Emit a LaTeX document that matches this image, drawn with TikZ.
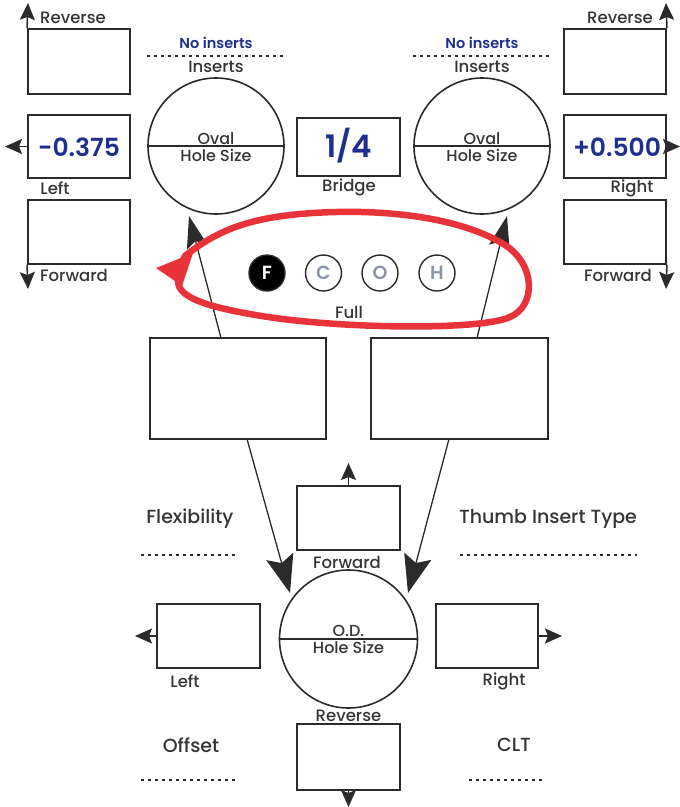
\documentclass[tikz,border=0pt]{standalone}
\usepackage{fontspec}
\setmainfont{Poppins}[UprightFont=* Medium,BoldFont=* SemiBold]
\usetikzlibrary{arrows.meta}
\definecolor{ln}{HTML}{2B2B2B}
\definecolor{tx}{HTML}{353535}
\definecolor{bl}{HTML}{1F2F90}
\definecolor{rd}{HTML}{E8333A}
\definecolor{lt}{HTML}{8A95A8}
\tikzset{
  box/.style={draw=ln,line width=1.9pt,inner sep=0pt},
  ring/.style={draw=ln,line width=1.6pt,circle,inner sep=0pt},
  lbl/.style={text=tx,font=\fontsize{16.5}{16}\selectfont,inner sep=0pt},
  mid/.style={text=tx,font=\fontsize{16}{15}\selectfont,inner sep=0pt},
  big/.style={text=tx,font=\fontsize{19}{19}\selectfont,inner sep=0pt},
  val/.style={text=bl,font=\bfseries\fontsize{25}{25}\selectfont,inner sep=0pt},
  sarr/.style={draw=ln,line width=1.6pt,-{Stealth[length=17pt,width=15pt,inset=3pt]}},
  larr/.style={draw=ln,line width=1.3pt,-{Stealth[length=38pt,width=28pt,inset=7pt]}},
  uarr/.style={draw=ln,line width=1.3pt,-{Stealth[length=32pt,width=21pt,inset=6pt]}},
  dots/.style={draw=ln,line width=2.2pt,dash pattern=on 3pt off 4pt},
  pick/.style={draw=ln,line width=1.4pt,circle,minimum size=36pt,inner sep=0pt,text=lt,font=\bfseries\fontsize{19}{19}\selectfont}
}
\begin{document}
\begin{tikzpicture}[x=1pt,y=-1pt]
\useasboundingbox (0,0) rectangle (680,807);
% ---------- top-left column
\node[box,minimum width=102pt,minimum height=65pt] (tlr) at (79,61.5) {};
\node[box,minimum width=102pt,minimum height=63pt] (tll) at (79,146.5) {};
\node[box,minimum width=102pt,minimum height=64pt] (tlf) at (79,232) {};
\node[val] (vl) at (79,147) {-0.375};
\coordinate (tlrE) at (28,3);
\coordinate (tllE) at (5,146.5);
\coordinate (tlfE) at (28,289);
\draw[sarr] (tlr.north west) -- (tlrE);
\draw[sarr] (tll.west) -- (tllE);
\draw[sarr] (tlf.south west) -- (tlfE);
\node[lbl] (tlrL) at (73,18) {Reverse};
\node[lbl] (tllL) at (55,188) {Left};
\node[lbl] (tlfL) at (74,275) {Forward};
% ---------- top-right column
\node[box,minimum width=102pt,minimum height=65pt] (trr) at (615,61.5) {};
\node[box,minimum width=102pt,minimum height=63pt] (trl) at (615,146.5) {};
\node[box,minimum width=102pt,minimum height=64pt] (trf) at (615,232) {};
\node[val] (vr) at (617,147) {+0.500};
\coordinate (trrE) at (666,3);
\coordinate (trlE) at (680,146.5);
\coordinate (trfE) at (666,289);
\draw[sarr] (trr.north east) -- (trrE);
\draw[sarr] (trl.east) -- (trlE);
\draw[sarr] (trf.south east) -- (trfE);
\node[lbl] (trrL) at (620,18) {Reverse};
\node[lbl] (trlL) at (632,188) {Right};
\node[lbl] (trfL) at (618,275) {Forward};
% ---------- ovals
\foreach \n/\x in {ol/216,or/482}{
  \node[ring,minimum size=136pt] (\n) at (\x,146) {};
  \draw[draw=ln,line width=1.6pt] (\n.west) -- (\n.east);
  \node[mid] (\n T) at (\x,139) {Oval};
  \node[mid] (\n B) at (\x,155) {Hole Size};
  \node[text=bl,font=\bfseries\fontsize{14.5}{14}\selectfont,inner sep=0pt] (\n N) at (\x,43) {No inserts};
  \coordinate (\n D1) at (\x-69,56);
  \coordinate (\n D2) at (\x+69,56);
  \draw[dots] (\n D1) -- (\n D2);
  \node[lbl] (\n I) at (\x,67) {Inserts};
}
% ---------- bridge
\node[box,minimum width=103pt,minimum height=58pt] (br) at (348.5,147) {};
\node[val,font=\bfseries\fontsize{31}{31}\selectfont] (brv) at (348.5,146) {1/4};
\node[lbl] (brL) at (349,187) {Bridge};
% ---------- F C O H
\node[pick,fill=black,text=white] (pF) at (267,273) {F};
\node[pick] (pC) at (323.5,273) {C};
\node[pick] (pO) at (380,273) {O};
\node[pick] (pH) at (437,273) {H};
\node[lbl] (full) at (349,312) {Full};
% ---------- big boxes
\node[box,minimum width=176pt,minimum height=101pt] (bl) at (238,388.5) {};
\node[box,minimum width=177pt,minimum height=101pt] (bR) at (459.5,388.5) {};
% ---------- arrows up to ovals
\coordinate (a1s) at (221,338);
\coordinate (a1e) at (189,216);
\coordinate (a2s) at (477,338);
\coordinate (a2e) at (507,216);
\draw[uarr] (a1s) -- (a1e);
\draw[uarr] (a2s) -- (a2e);
% ---------- red loop
\draw[rd,line width=6.5pt,line join=round,line cap=round]
  (185,256) .. controls (215,232) and (245,219) .. (300,214)
  .. controls (380,207) and (460,217) .. (505,245)
  .. controls (536,265) and (536,306) .. (510,317)
  .. controls (480,331) and (330,329) .. (250,314)
  .. controls (205,306) and (178,297) .. (178,281)
  .. controls (178,272) and (181,264) .. (185,256);
\fill[rd] (156,268) -- (193,253) -- (182,286) -- cycle;
% ---------- O.D. circle
\node[ring,minimum size=138pt] (od) at (348.5,639) {};
\draw[draw=ln,line width=1.6pt] (od.west) -- (od.east);
\node[mid] (odT) at (348.5,631) {O.D.};
\node[mid] (odB) at (348.5,647) {Hole Size};
% arrows down to OD
\coordinate (b1s) at (247,439);
\coordinate (b1e) at (290,593);
\coordinate (b2s) at (449,439);
\coordinate (b2e) at (408,593);
\draw[larr] (b1s) -- (b1e);
\draw[larr] (b2s) -- (b2e);
% ---------- bottom boxes
\node[box,minimum width=103pt,minimum height=64pt] (bf) at (348.5,518) {};
\node[box,minimum width=103pt,minimum height=64pt] (blf) at (208.5,636) {};
\node[box,minimum width=102pt,minimum height=64pt] (brt) at (487,636) {};
\node[box,minimum width=103pt,minimum height=66pt] (brv2) at (348.5,757) {};
\coordinate (bfE) at (348.5,463);
\coordinate (blfE) at (135,636);
\coordinate (brtE) at (562,636);
\coordinate (brvE) at (348.5,807);
\draw[sarr] (bf.north) -- (bfE);
\draw[sarr] (blf.west) -- (blfE);
\draw[sarr] (brt.east) -- (brtE);
\draw[sarr] (brv2.south) -- (brvE);
\node[lbl] (bfL) at (347,562) {Forward};
\node[lbl] (blfL) at (185,681) {Left};
\node[lbl] (brtL) at (504,681) {Right};
\node[lbl] (brvL) at (348.5,716) {Reverse};
% ---------- side labels
\node[big] (flex) at (190,519) {Flexibility};
\node[big] (thumb) at (548,519) {Thumb Insert Type};
\node[big] (off) at (191,745) {Offset};
\node[big] (clt) at (514,745) {CLT};
\coordinate (d1a) at (141,555); \coordinate (d1b) at (238,555);
\coordinate (d2a) at (460,555); \coordinate (d2b) at (637,555);
\coordinate (d3a) at (141,780); \coordinate (d3b) at (238,780);
\coordinate (d4a) at (469,780); \coordinate (d4b) at (544,780);
\draw[dots] (d1a) -- (d1b);
\draw[dots] (d2a) -- (d2b);
\draw[dots] (d3a) -- (d3b);
\draw[dots] (d4a) -- (d4b);
\end{tikzpicture}
\end{document}
